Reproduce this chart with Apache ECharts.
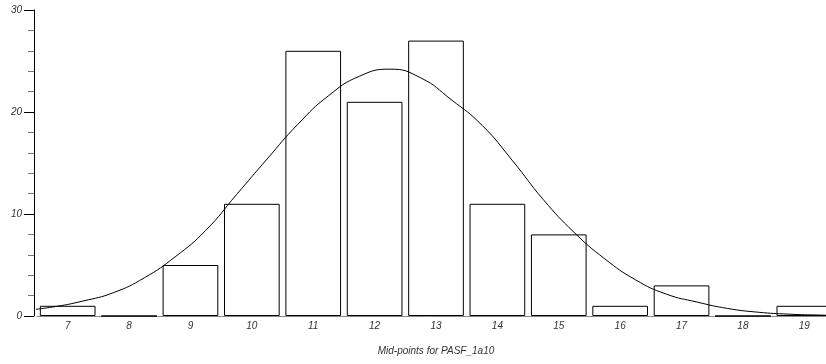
<!DOCTYPE html>
<html>
<head>
<meta charset="utf-8">
<script src="https://cdn.jsdelivr.net/npm/echarts@6/dist/echarts.min.js"></script>
<style>
  html, body { margin: 0; padding: 0; background: #fff; }
  #chart { width: 826px; height: 364px; }
</style>
</head>
<body>
<div id="chart"></div>
<script>
// Histogram of PASF_1a10 by mid-point, with a fitted normal curve on top.
const midPoints = ['7', '8', '9', '10', '11', '12', '13', '14', '15', '16', '17', '18', '19'];
const counts = [1, 0, 5, 11, 26, 21, 27, 11, 8, 1, 3, 0, 1];

// Fitted curve, sampled every half unit as [mid-point value, expected count].
const curveX = [6.25, 6.75, 7.25, 7.75, 8.25, 8.75, 9.25, 9.75, 10.25, 10.75, 11.25, 11.75, 12.25,
                12.75, 13.25, 13.75, 14.25, 14.75, 15.25, 15.75, 16.25, 16.75, 17.25, 17.75,
                18.25, 18.75, 19.25, 19.75];
const curveY = [0.5, 0.88, 1.47, 2.3, 3.75, 5.8, 8.4, 11.9, 15.4, 18.8, 21.6, 23.5, 24.2,
                23.35, 21.2, 18.7, 15.2, 11.4, 8.2, 5.6, 3.55, 2.15, 1.37, 0.74,
                0.37, 0.18, 0.09, 0.04];

const yTicks = { min: 0, max: 30, interval: 10 };
const axisTitle = 'Mid-points for PASF_1a10';

const FONT = '"Liberation Sans", Arial, sans-serif';
const textStyle = { fontFamily: FONT, fontSize: 10, fontStyle: 'italic', color: '#333' };

const chart = echarts.init(document.getElementById('chart'), null, { renderer: 'canvas' });

chart.setOption({
  animation: false,
  backgroundColor: '#fff',
  // plot runs past the right edge of the canvas, so the last bar is cut off
  grid: { left: 37, width: 798, top: 10, bottom: 48, containLabel: false, outerBoundsMode: 'none' },
  xAxis: [
    {
      type: 'category',
      data: midPoints,
      boundaryGap: true,
      axisLine: { show: true, lineStyle: { color: '#888', width: 1 } },
      axisTick: { show: false },
      axisLabel: Object.assign({ margin: 5 }, textStyle),
      splitLine: { show: false },
      name: axisTitle,
      nameLocation: 'middle',
      nameGap: 30,
      nameTextStyle: Object.assign({}, textStyle)
    },
    {
      type: 'value',
      min: 6.5,
      max: 19.5,
      show: false
    }
  ],
  yAxis: {
    type: 'value',
    min: yTicks.min,
    max: yTicks.max,
    interval: yTicks.interval,
    offset: 3,
    axisLine: { show: true, lineStyle: { color: '#000', width: 1 } },
    axisTick: { show: true, inside: false, length: 10, lineStyle: { color: '#000' } },
    minorTick: { show: true, splitNumber: 5, length: 6, lineStyle: { color: '#777' } },
    axisLabel: Object.assign({ margin: 12 }, textStyle),
    splitLine: { show: false }
  },
  series: [
    {
      type: 'bar',
      xAxisIndex: 0,
      data: counts,
      barCategoryGap: '9.3%',
      itemStyle: { color: '#fff', borderColor: '#000', borderWidth: 1 },
      z: 2
    },
    {
      type: 'line',
      xAxisIndex: 1,
      data: curveX.map((x, i) => [x, curveY[i]]),
      smooth: true,
      symbol: 'none',
      lineStyle: { color: '#000', width: 1 },
      z: 3
    }
  ]
});
</script>
</body>
</html>
